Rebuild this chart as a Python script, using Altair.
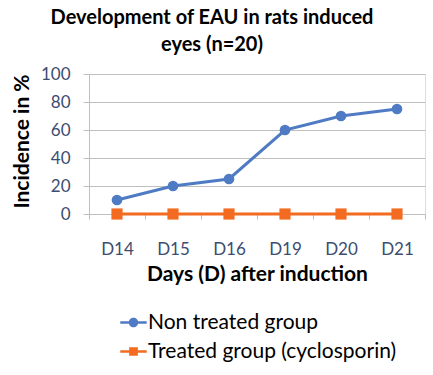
import altair as alt
import pandas as pd

days = ["D14", "D15", "D16", "D19", "D20", "D21"]
non_treated = [10, 20, 25, 60, 70, 75]
treated = [0, 0, 0, 0, 0, 0]
series_names = ["Non treated group", "Treated group (cyclosporin)"]
colors = ["#4F7BC4", "#F26B21"]
y_ticks = [0, 20, 40, 60, 80, 100]

rows = []
for d, v in zip(days, non_treated):
    rows.append({"day": d, "value": v, "series": series_names[0]})
for d, v in zip(days, treated):
    rows.append({"day": d, "value": v, "series": series_names[1]})
df = pd.DataFrame(rows)

FONT = "Lato"
LABEL_COLOR = "#3C4D70"
GRID = "#BFBFBF"

x_enc = alt.X(
    "day:N", sort=days, bandPosition=0.5,
    scale=alt.Scale(type="band", paddingInner=0, paddingOuter=0),
    axis=alt.Axis(
        title="Days (D) after induction", labelAngle=0, grid=False,
        tickBand="extent", tickSize=5, tickColor=GRID, domainColor=GRID,
        labelFont=FONT, labelFontSize=17, labelColor=LABEL_COLOR, labelPadding=22,
        titleFont=FONT, titleFontSize=21, titleFontWeight="bold", titleColor="#000000",
        titleX=168, titleY=60, titleBaseline="middle", titleAlign="center",
    ),
)
y_enc = alt.Y(
    "value:Q",
    scale=alt.Scale(domain=[0, 100], nice=False),
    axis=alt.Axis(
        title="Incidence in %", values=y_ticks, grid=True, gridColor=GRID,
        tickSize=6, tickColor=GRID, domainColor=GRID,
        labelFont=FONT, labelFontSize=17, labelColor=LABEL_COLOR, labelPadding=13,
        titleFont=FONT, titleFontSize=21, titleFontWeight="bold", titleColor="#000000",
        titleX=-67, titleY=67, titleAngle=270, titleAlign="center", titleBaseline="middle",
    ),
)
color_scale = alt.Scale(domain=series_names, range=colors)

df_a = df[df["series"] == series_names[0]]
df_b = df[df["series"] == series_names[1]]

line_a = alt.Chart(df_a).mark_line(strokeWidth=3, color=colors[0]).encode(x=x_enc, y=y_enc)
line_b = alt.Chart(df_b).mark_line(strokeWidth=3, color=colors[1]).encode(x=x_enc, y=y_enc)
circles = alt.Chart(df_a).mark_point(shape="circle", filled=True, size=115, opacity=1,
                                     color=colors[0]).encode(x=x_enc, y=y_enc)
squares = alt.Chart(df_b).mark_point(shape="square", filled=True, size=125, opacity=1,
                                     color=colors[1]).encode(x=x_enc, y=y_enc)

circle_sym = ("M-1,-0.1H1V0.1H-1Z "
              "M0.36,0A0.36,0.36,0,1,1,-0.36,0A0.36,0.36,0,1,1,0.36,0Z")
square_sym = "M-1,-0.1H1V0.1H-1Z M-0.33,-0.33H0.33V0.33H-0.33Z"

leg = alt.Legend(
    orient="none", legendX=31, legendY=235, direction="vertical",
    symbolSize=700, symbolStrokeWidth=0, symbolOpacity=1, rowPadding=5,
    labelFont=FONT, labelFontSize=21, labelColor="#000000",
    labelOffset=1, labelLimit=400,
)
legend_layer = alt.Chart(df).mark_point(filled=True, opacity=0).encode(
    x=x_enc, y=y_enc,
    color=alt.Color("series:N", scale=color_scale, title=None, legend=leg),
    shape=alt.Shape("series:N", scale=alt.Scale(domain=series_names, range=[circle_sym, square_sym]),
                    title=None, legend=leg),
)

chart = alt.layer(line_a, line_b, circles, squares, legend_layer).properties(
    width=336, height=140,
    title=alt.TitleParams(
        text=["Development of EAU in rats induced", "eyes (n=20)"],
        font=FONT, fontSize=20, fontWeight="bold", color="#000000",
        anchor="middle", frame="group", dx=-45, offset=10, lineHeight=27,
    ),
    autosize=alt.AutoSizeParams(type="none"),
    padding={"left": 89, "top": 74, "right": 8, "bottom": 161},
).configure_view(stroke=None).configure(background="#FFFFFF")

chart.save("out.html", embed_options={"renderer": "svg", "actions": False})
